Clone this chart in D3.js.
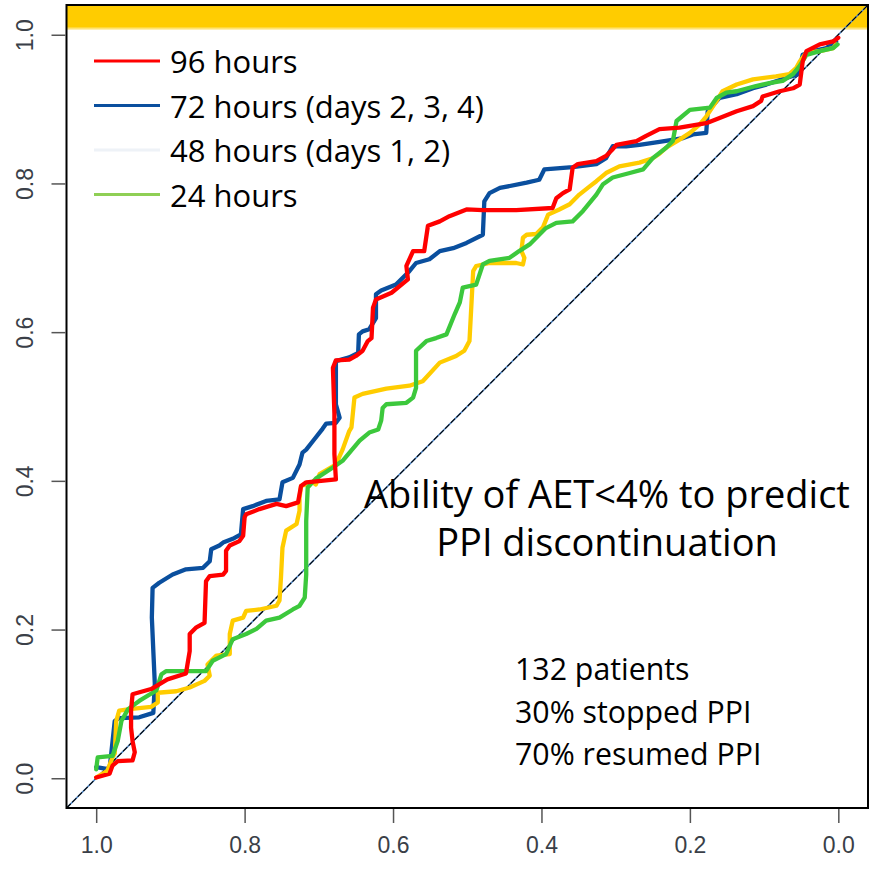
<!DOCTYPE html>
<html>
<head>
<meta charset="utf-8">
<script src="https://cdn.jsdelivr.net/npm/d3@7"></script>
<style>
  body { margin: 0; background: #fff; }
  svg { display: block; }
</style>
</head>
<body>
<div id="chart"></div>
<script>
// ROC curves, x = specificity (reversed), y = sensitivity
var hours96 = [[1.000,0.001],[0.982,0.006],[0.978,0.017],[0.971,0.023],[0.951,0.024],[0.948,0.035],[0.951,0.050],[0.953,0.068],[0.953,0.091],[0.951,0.113],[0.944,0.115],[0.926,0.120],[0.904,0.133],[0.879,0.141],[0.874,0.171],[0.874,0.194],[0.865,0.203],[0.854,0.209],[0.852,0.265],[0.847,0.272],[0.829,0.274],[0.825,0.279],[0.825,0.306],[0.820,0.313],[0.807,0.319],[0.802,0.326],[0.800,0.351],[0.798,0.355],[0.780,0.362],[0.757,0.369],[0.744,0.366],[0.728,0.371],[0.724,0.393],[0.717,0.398],[0.677,0.402],[0.679,0.436],[0.679,0.490],[0.681,0.552],[0.677,0.562],[0.659,0.563],[0.650,0.568],[0.641,0.575],[0.634,0.588],[0.629,0.592],[0.627,0.633],[0.623,0.644],[0.602,0.653],[0.580,0.671],[0.582,0.689],[0.573,0.709],[0.558,0.709],[0.553,0.743],[0.537,0.749],[0.524,0.756],[0.501,0.765],[0.479,0.764],[0.434,0.764],[0.385,0.767],[0.380,0.780],[0.371,0.787],[0.362,0.792],[0.358,0.821],[0.351,0.826],[0.326,0.830],[0.313,0.837],[0.304,0.846],[0.299,0.852],[0.272,0.857],[0.259,0.864],[0.241,0.873],[0.214,0.875],[0.178,0.881],[0.160,0.888],[0.137,0.897],[0.115,0.904],[0.104,0.911],[0.102,0.917],[0.079,0.924],[0.061,0.928],[0.052,0.933],[0.048,0.964],[0.043,0.978],[0.025,0.987],[0.007,0.991],[0.000,0.996]];

var hours72 = [[1.000,0.015],[0.982,0.012],[0.975,0.077],[0.969,0.081],[0.942,0.082],[0.923,0.088],[0.921,0.127],[0.923,0.171],[0.925,0.216],[0.924,0.256],[0.915,0.263],[0.897,0.274],[0.879,0.281],[0.856,0.283],[0.847,0.292],[0.845,0.308],[0.834,0.313],[0.829,0.317],[0.816,0.322],[0.805,0.328],[0.802,0.362],[0.789,0.366],[0.771,0.373],[0.753,0.375],[0.749,0.398],[0.735,0.404],[0.726,0.422],[0.722,0.438],[0.717,0.442],[0.706,0.456],[0.695,0.470],[0.690,0.477],[0.677,0.478],[0.672,0.485],[0.677,0.503],[0.677,0.561],[0.659,0.566],[0.647,0.572],[0.646,0.597],[0.641,0.601],[0.632,0.604],[0.623,0.619],[0.623,0.651],[0.616,0.656],[0.596,0.664],[0.578,0.682],[0.569,0.693],[0.551,0.698],[0.537,0.709],[0.519,0.713],[0.501,0.720],[0.479,0.731],[0.477,0.776],[0.470,0.787],[0.456,0.794],[0.420,0.801],[0.403,0.805],[0.396,0.819],[0.358,0.822],[0.326,0.826],[0.313,0.834],[0.304,0.850],[0.286,0.850],[0.268,0.852],[0.241,0.856],[0.209,0.861],[0.196,0.866],[0.178,0.868],[0.176,0.897],[0.160,0.915],[0.137,0.920],[0.115,0.928],[0.097,0.933],[0.070,0.942],[0.054,0.947],[0.048,0.973],[0.034,0.978],[0.016,0.982],[0.007,0.987],[0.003,0.991]];

var hours48 = [[1.000,0.001],[0.985,0.010],[0.978,0.028],[0.975,0.033],[0.973,0.077],[0.969,0.091],[0.955,0.093],[0.926,0.096],[0.917,0.102],[0.917,0.115],[0.892,0.117],[0.874,0.122],[0.854,0.131],[0.847,0.138],[0.850,0.153],[0.838,0.165],[0.820,0.167],[0.820,0.194],[0.816,0.212],[0.802,0.216],[0.798,0.225],[0.780,0.227],[0.757,0.232],[0.753,0.239],[0.751,0.270],[0.749,0.310],[0.744,0.333],[0.730,0.342],[0.726,0.360],[0.726,0.377],[0.724,0.393],[0.708,0.398],[0.704,0.395],[0.699,0.409],[0.677,0.422],[0.668,0.442],[0.659,0.467],[0.656,0.472],[0.652,0.512],[0.641,0.517],[0.609,0.524],[0.578,0.528],[0.560,0.534],[0.537,0.559],[0.515,0.568],[0.504,0.575],[0.497,0.588],[0.492,0.682],[0.488,0.689],[0.470,0.693],[0.434,0.693],[0.425,0.691],[0.423,0.700],[0.427,0.709],[0.425,0.727],[0.420,0.731],[0.407,0.732],[0.398,0.741],[0.391,0.758],[0.376,0.765],[0.362,0.772],[0.349,0.785],[0.335,0.796],[0.326,0.803],[0.313,0.814],[0.295,0.823],[0.268,0.828],[0.250,0.834],[0.241,0.840],[0.232,0.848],[0.214,0.859],[0.200,0.868],[0.187,0.879],[0.178,0.890],[0.164,0.911],[0.156,0.924],[0.137,0.933],[0.115,0.940],[0.084,0.944],[0.066,0.947],[0.057,0.955],[0.052,0.964],[0.043,0.976],[0.025,0.978],[0.007,0.982],[0.003,0.987]];

var hours24 = [[1.000,0.012],[0.998,0.028],[0.978,0.030],[0.971,0.050],[0.966,0.077],[0.957,0.093],[0.942,0.104],[0.919,0.118],[0.912,0.140],[0.906,0.144],[0.852,0.144],[0.843,0.158],[0.825,0.167],[0.816,0.187],[0.798,0.194],[0.784,0.201],[0.771,0.212],[0.753,0.216],[0.735,0.227],[0.726,0.232],[0.719,0.243],[0.717,0.274],[0.717,0.346],[0.715,0.391],[0.704,0.403],[0.681,0.418],[0.668,0.427],[0.645,0.454],[0.632,0.465],[0.620,0.469],[0.616,0.481],[0.614,0.498],[0.609,0.503],[0.582,0.505],[0.573,0.512],[0.569,0.525],[0.569,0.575],[0.555,0.588],[0.542,0.592],[0.528,0.597],[0.517,0.624],[0.510,0.640],[0.506,0.660],[0.488,0.664],[0.479,0.691],[0.470,0.696],[0.443,0.700],[0.430,0.709],[0.416,0.718],[0.403,0.731],[0.394,0.740],[0.380,0.747],[0.358,0.749],[0.344,0.763],[0.326,0.785],[0.317,0.799],[0.304,0.808],[0.281,0.814],[0.263,0.819],[0.250,0.834],[0.232,0.848],[0.223,0.857],[0.218,0.884],[0.200,0.899],[0.173,0.902],[0.164,0.915],[0.151,0.922],[0.137,0.924],[0.111,0.931],[0.093,0.935],[0.075,0.938],[0.061,0.947],[0.052,0.958],[0.043,0.973],[0.025,0.978],[0.007,0.982],[0.001,0.987]];

var seriesLabels = ["96 hours", "72 hours (days 2, 3, 4)", "48 hours (days 1, 2)", "24 hours"];
var seriesData = [hours96, hours72, hours48, hours24];
var curveColors = ["#ff0000", "#0a4f9e", "#ffcc00", "#3cc83c"];
var legendColors = ["#ff0000", "#0a4f9e", "#eef2f7", "#8fcf55"];
var drawOrder = [1, 2, 3, 0]; // red ends up on top
var tickValues = [1.0, 0.8, 0.6, 0.4, 0.2, 0.0];
var titleLines = ["Ability of AET<4% to predict", "PPI discontinuation"];
var noteLines = ["132 patients", "30% stopped PPI", "70% resumed PPI"];

var width = 871, height = 872,
    box = { left: 66.5, right: 868, top: 5, bottom: 808 };

var svg = d3.select("#chart")
    .append("svg")
    .attr("width", width)
    .attr("height", height);

var x = d3.scaleLinear().domain([1.04, -0.04]).range([box.left, box.right]);
var y = d3.scaleLinear().domain([-0.04, 1.04]).range([box.bottom, box.top]);

// yellow band across the top of the frame
var grad = svg.append("defs").append("linearGradient")
    .attr("id", "band").attr("x1", 0).attr("x2", 0).attr("y1", 0).attr("y2", 1);
grad.append("stop").attr("offset", "0%").attr("stop-color", "#ffcc00");
grad.append("stop").attr("offset", "86%").attr("stop-color", "#ffcc00");
grad.append("stop").attr("offset", "100%").attr("stop-color", "#fff4cc");
svg.append("rect")
    .attr("x", box.left).attr("y", box.top)
    .attr("width", box.right - box.left).attr("height", 25)
    .attr("fill", "url(#band)");

// reference diagonal
var diag = [[1.04, -0.04], [-0.04, 1.04]];
var line = d3.line().x(function(d) { return x(d[0]); }).y(function(d) { return y(d[1]); });
svg.append("path").attr("d", line(diag))
    .attr("stroke", "#4f86c6").attr("stroke-width", 1.6).attr("fill", "none");
svg.append("path").attr("d", line(diag))
    .attr("stroke", "#000").attr("stroke-width", 1.1).attr("stroke-dasharray", "6,2").attr("fill", "none");

// curves
drawOrder.forEach(function(i) {
    svg.append("path")
        .attr("d", line(seriesData[i]))
        .attr("fill", "none")
        .attr("stroke", curveColors[i])
        .attr("stroke-width", 4.3)
        .attr("stroke-linejoin", "round")
        .attr("stroke-linecap", "round");
});

// frame
svg.append("rect")
    .attr("x", box.left).attr("y", box.top)
    .attr("width", box.right - box.left).attr("height", box.bottom - box.top)
    .attr("fill", "none").attr("stroke", "#000").attr("stroke-width", 2);

// axes
var fmt = d3.format(".1f");
var xAxis = svg.append("g")
    .attr("transform", "translate(0," + (box.bottom + 1) + ")")
    .call(d3.axisBottom(x).tickValues(tickValues).tickFormat(fmt).tickSize(14).tickPadding(14));
var yAxis = svg.append("g")
    .attr("transform", "translate(" + (box.left - 1) + ",0)")
    .call(d3.axisLeft(y).tickValues(tickValues).tickFormat(fmt).tickSize(14).tickPadding(0));
[xAxis, yAxis].forEach(function(g) {
    g.select(".domain").remove();
    g.selectAll(".tick line").attr("stroke", "#555").attr("stroke-width", 1.5);
    g.selectAll(".tick text")
        .attr("fill", "#3a3f48")
        .style("font-family", "'Liberation Sans', Arial, sans-serif")
        .style("font-size", "23px");
});
yAxis.selectAll(".tick text")
    .attr("x", null).attr("dy", null)
    .attr("text-anchor", "middle")
    .attr("transform", "translate(-49,0) rotate(-90)")
    .attr("dy", "0.71em")
    .attr("y", 0);

// legend
var legend = svg.append("g");
seriesLabels.forEach(function(label, i) {
    var ly = 61 + i * 44.5;
    legend.append("line")
        .attr("x1", 94).attr("x2", 160).attr("y1", ly).attr("y2", ly)
        .attr("stroke", legendColors[i]).attr("stroke-width", 3);
    legend.append("text")
        .attr("x", 170).attr("y", ly + 12)
        .style("font-family", "'Open Sans', sans-serif")
        .style("font-size", "31px")
        .attr("fill", "#000")
        .text(label);
});

// annotations
titleLines.forEach(function(t, i) {
    svg.append("text")
        .attr("x", 607).attr("y", 508 + i * 48)
        .attr("text-anchor", "middle")
        .style("font-family", "'Open Sans', sans-serif")
        .style("font-size", "38px")
        .attr("fill", "#000")
        .text(t);
});
noteLines.forEach(function(t, i) {
    svg.append("text")
        .attr("x", 515).attr("y", 680 + i * 42.5)
        .style("font-family", "'Open Sans', sans-serif")
        .style("font-size", "30.3px")
        .attr("fill", "#000")
        .text(t);
});
</script>
</body>
</html>
